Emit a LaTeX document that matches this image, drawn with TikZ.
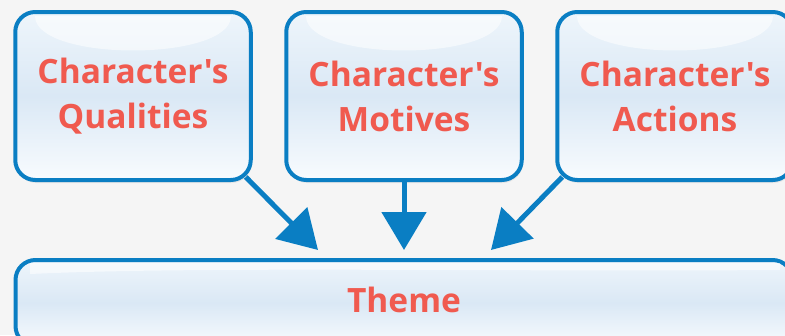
\documentclass[tikz,border=0pt]{standalone}
\usepackage{fontspec}
\setmainfont{Open Sans}[Ligatures=TeXOff]
\usetikzlibrary{arrows.meta,shadows,calc}
\definecolor{bordc}{HTML}{0A7EC3}
\definecolor{txtc}{HTML}{F05A4F}
\definecolor{bgc}{HTML}{F5F5F5}
\definecolor{midb}{HTML}{DAE8F5}
\definecolor{topb}{HTML}{EEF5FB}
\definecolor{lowb}{HTML}{F8FBFE}
\begin{document}
\begin{tikzpicture}[x=1pt,y=-1pt,
  box/.style={draw=bordc, line width=4pt, rounded corners=20pt,
    top color=topb, bottom color=lowb, middle color=midb,
    drop shadow={opacity=0.12, shadow xshift=1pt, shadow yshift=-3pt},
    inner sep=0pt},
  topbox/.style={box, minimum width=235.5pt, minimum height=168pt},
  gloss/.style={fill=white, fill opacity=0.55, draw=none},
  lbl/.style={text=txtc, font=\bfseries\fontsize{33.5}{45}\selectfont, align=center},
  link/.style={draw=bordc, line width=5pt, -{Triangle[width=44pt,length=38pt]}}]
\fill[bgc] (0,0) rectangle (785,335);
\useasboundingbox (0,0) rectangle (785,335);
\clip (0,0) rectangle (785,335);
% theme box
\node[box, minimum width=777pt, minimum height=86pt] (theme) at (404,303) {};
\fill[gloss] (30,263) -- (780,263) -- (780,270) .. controls (500,272) and (200,266) .. (30,274) -- cycle;
\node[lbl] (themet) at (404,300) {Theme};
% top boxes
\node[topbox] (q) at (133,96) {};
\node[topbox] (m) at (404,96) {};
\node[topbox] (a) at (675,96) {};
\foreach \c in {133,404,675}{
  \fill[gloss] (\c-98,16) -- (\c+98,16) .. controls (\c+98,62) and (\c-98,62) .. (\c-98,16) -- cycle;
}
\node[lbl] (qt) at (q.center) {Character's\\Qualities};
\node[lbl] (mt) at (m.center) {Character's\\Motives};
\node[lbl] (at) at (a.center) {Character's\\Actions};
% arrows
\coordinate (tq) at (318,250);
\coordinate (tm) at (404,250);
\coordinate (ta) at (491,250);
\draw[link] ($(q.south east)+(-7,-5)$) -- (tq);
\draw[link] (m.south) -- (tm);
\draw[link] ($(a.south west)+(7,-5)$) -- (ta);
\end{tikzpicture}
\end{document}
